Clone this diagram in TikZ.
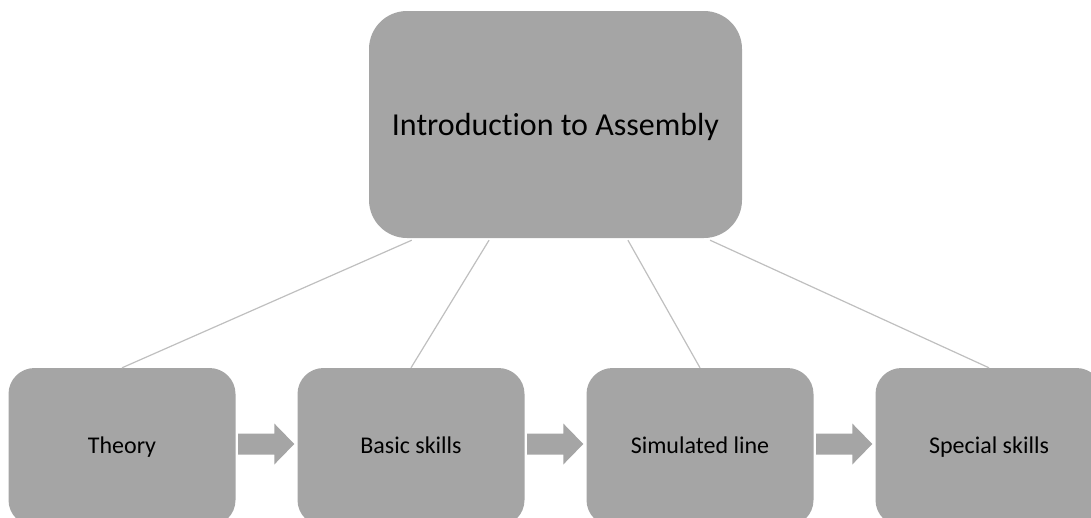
\documentclass[tikz,border=0pt]{standalone}
\usepackage{fontspec}
\setmainfont{Carlito}[Ligatures=NoCommon]
\usetikzlibrary{calc}
\definecolor{boxgray}{HTML}{A5A5A5}
\definecolor{linkgray}{HTML}{BFBFBF}
\tikzset{
  topbox/.style={fill=boxgray, rounded corners=38pt, minimum width=373pt,
    minimum height=227pt, inner sep=0pt, font=\fontsize{32}{38}\selectfont,
    text height=26pt, text depth=5pt},
  stagebox/.style={fill=boxgray, rounded corners=26pt, minimum width=227pt,
    minimum height=158pt, inner sep=0pt, font=\fontsize{24}{29}\selectfont,
    text height=18pt, text depth=6pt},
  link/.style={draw=linkgray, line width=1.2pt},
  flow/.style={fill=boxgray}
}
% block arrow from the east side of box #1 to the west side of box #2
\newcommand\flowarrow[2]{%
  \coordinate (#1-tail) at ($(#1.east)+(2.5,-3)$);
  \coordinate (#1-tip) at ($(#2.west)+(-3,-3)$);
  \fill[flow] ($(#1-tail)+(0,-10.5)$) -- ($(#1-tip)+(-20,-10.5)$)
    -- ($(#1-tip)+(-20,-20.5)$) -- (#1-tip) -- ($(#1-tip)+(-20,20.5)$)
    -- ($(#1-tip)+(-20,10.5)$) -- ($(#1-tail)+(0,10.5)$) -- cycle;
}
\begin{document}
\begin{tikzpicture}[x=1pt, y=-1pt]
  \useasboundingbox (0,0) rectangle (1091,517);
  \begin{scope}
    \clip (0,0) rectangle (1091,517);
    % main topic
    \node[topbox] (top) at (555.5,124.5) {Introduction to Assembly};
    % stages
    \node[stagebox] (theory) at (122,447) {Theory};
    \node[stagebox] (basic) at (411,447) {Basic skills};
    \node[stagebox] (sim) at (700,447) {Simulated line};
    \node[stagebox] (special) at (989,447) {Special skills};
    % links from the topic to each stage
    \coordinate (l1) at ($(top.south west)!0.115!(top.south east)+(0,2)$);
    \coordinate (l2) at ($(top.south west)!0.322!(top.south east)+(0,2)$);
    \coordinate (l3) at ($(top.south west)!0.694!(top.south east)+(0,2)$);
    \coordinate (l4) at ($(top.south west)!0.914!(top.south east)+(0,2)$);
    \draw[link] (l1) -- (theory.north);
    \draw[link] (l2) -- (basic.north);
    \draw[link] (l3) -- (sim.north);
    \draw[link] (l4) -- (special.north);
    % progression arrows
    \flowarrow{theory}{basic}
    \flowarrow{basic}{sim}
    \flowarrow{sim}{special}
  \end{scope}
\end{tikzpicture}
\end{document}
